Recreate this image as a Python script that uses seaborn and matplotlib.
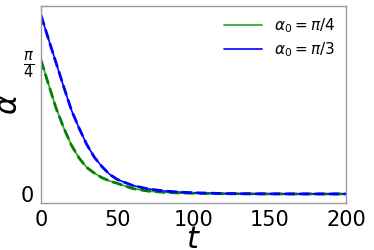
import matplotlib
matplotlib.use("Agg")
import matplotlib.pyplot as plt
import seaborn as sns
import numpy as np
import pandas as pd

t_values = [0, 5, 10, 15, 20, 25, 30, 35, 40, 45, 50, 60, 70, 80, 90, 100, 120, 140, 160, 180, 200]
alpha_pi4 = [0.785, 0.64, 0.50, 0.385, 0.285, 0.21, 0.155, 0.122, 0.095, 0.076, 0.062, 0.032,
             0.017, 0.010, 0.006, 0.004, 0.0015, 0.0006, 0.0002, 0.0001, 0.0]
alpha_pi3 = [1.047, 0.905, 0.765, 0.625, 0.49, 0.385, 0.29, 0.215, 0.16, 0.115, 0.085, 0.05,
             0.03, 0.018, 0.011, 0.007, 0.0025, 0.001, 0.0004, 0.0001, 0.0]
labels = [r"$\alpha_0 = \pi/4$", r"$\alpha_0 = \pi/3$"]
ytick_vals = [0, np.pi / 4]
ytick_labels = ["0", r"$\frac{\pi}{4}$"]
xtick_vals = [0, 50, 100, 150, 200]

sns.set_style("white")
plt.rcParams.update({"text.color": "black", "axes.labelcolor": "black",
                     "xtick.color": "black", "ytick.color": "black"})
fig = plt.figure(figsize=(3.74, 2.5), dpi=100)
ax = fig.add_axes([0.1096, 0.188, 0.8154, 0.788])

df1 = pd.DataFrame({"t": t_values, "a": alpha_pi4})
df2 = pd.DataFrame({"t": t_values, "a": alpha_pi3})

sns.lineplot(data=df1, x="t", y="a", ax=ax, color="#2ca02c", lw=1.2, label=labels[0])
sns.lineplot(data=df2, x="t", y="a", ax=ax, color="blue", lw=1.2, label=labels[1])
sns.lineplot(data=df1, x="t", y="a", ax=ax, color="green", lw=2, ls="--", legend=False)
sns.lineplot(data=df2, x="t", y="a", ax=ax, color="blue", lw=2, ls="--", legend=False)

ax.set_xlim(0, 200)
ax.set_ylim(-0.053, 1.101)
ax.set_xticks(xtick_vals)
ax.set_yticks(ytick_vals)
ax.set_yticklabels(ytick_labels)
ax.tick_params(axis="both", labelsize=15, length=3, color="#808080", pad=2,
               labelcolor="black")
for s in ax.spines.values():
    s.set_color("#999999")
    s.set_linewidth(1.0)
ax.set_xlabel(r"$t$", fontsize=22)
ax.set_ylabel(r"$\alpha$", fontsize=22)
ax.xaxis.set_label_coords(0.5, -0.11)
ax.yaxis.set_label_coords(-0.058, 0.5)
ax.legend(loc="upper right", frameon=False, fontsize=11, handlelength=2.5,
          labelspacing=0.3, borderaxespad=0.3)

fig.savefig("out.png", dpi=100)
